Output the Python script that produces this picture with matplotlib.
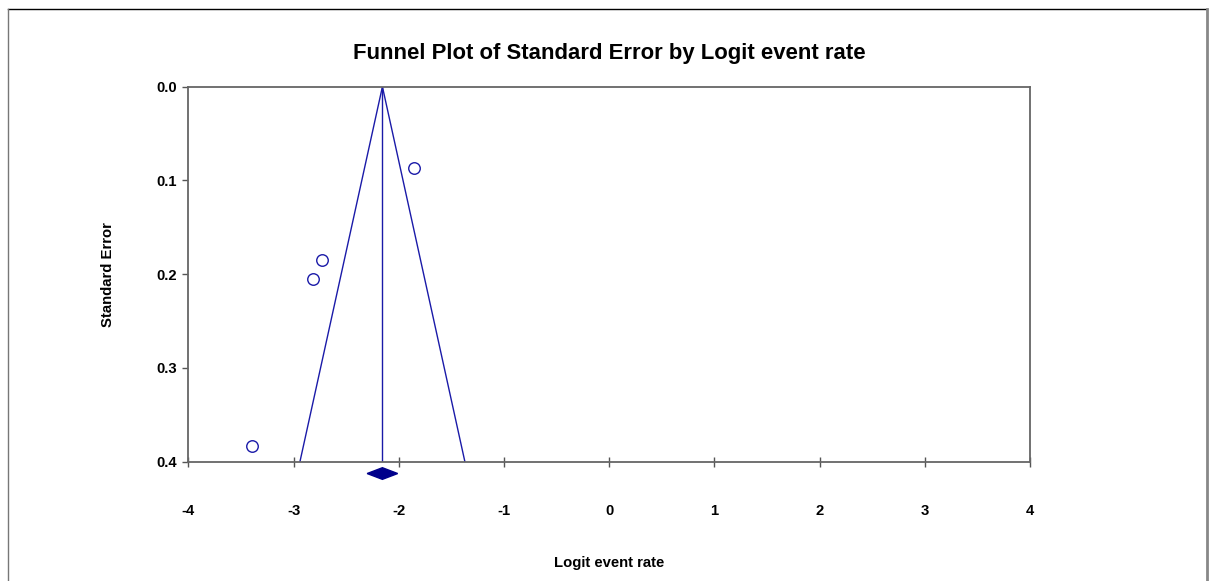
import matplotlib
matplotlib.use('Agg')
import matplotlib.pyplot as plt
from matplotlib.lines import Line2D
import numpy as np

# study values
logit = [-1.858, -2.727, -2.818, -3.39]
se = [0.0864, 0.1845, 0.2048, 0.383]

# summary effect and its CI
est = -2.155
ci_lo = -2.30
ci_hi = -2.01
se_max = 0.4
diamond_y = 0.4126
diamond_h = 0.0062

xticks = [-4, -3, -2, -1, 0, 1, 2, 3, 4]
yticks = [0.0, 0.1, 0.2, 0.3, 0.4]

plt.rcParams['font.family'] = ['Liberation Sans', 'DejaVu Sans']

blue = '#1a1aa8'
navy = '#00008b'

fig = plt.figure(figsize=(12.11, 5.81), dpi=100)
ax = fig.add_axes([0.1555, 0.2053, 0.695, 0.6455])

# funnel
ax.plot([est - 1.96 * se_max, est, est + 1.96 * se_max], [se_max, 0, se_max],
        color=blue, lw=1)
ax.plot([est, est], [0, se_max], color=blue, lw=1)

ax.plot(logit, se, 'o', ms=8.3, mfc='white', mec=blue, mew=1, clip_on=False)

# summary diamond below the axis
ax.fill([ci_lo, est, ci_hi, est],
        [diamond_y, diamond_y - diamond_h, diamond_y, diamond_y + diamond_h],
        color=navy, clip_on=False, zorder=5)

ax.set_xlim(-4, 4)
ax.set_ylim(0.4, 0.0)
ax.set_xticks(xticks)
ax.set_yticks(yticks)
ax.set_xticklabels([str(t) for t in xticks], fontweight='bold', fontsize=10.6)
ax.set_yticklabels(['%.1f' % t for t in yticks], fontweight='bold', fontsize=10.6)
ax.tick_params(axis='x', direction='inout', length=7, width=1, color='#555555', pad=27)
ax.tick_params(axis='y', direction='out', length=4, width=1, color='#555555', pad=4)

for s in ax.spines.values():
    s.set_color('#666666')
    s.set_linewidth(1.3)

ax.set_xlabel('Logit event rate', fontweight='bold', fontsize=10.7, labelpad=27)
ax.set_ylabel('Standard Error', fontweight='bold', fontsize=10.7, labelpad=30)
ax.set_title('Funnel Plot of Standard Error by Logit event rate',
             fontweight='bold', fontsize=15.9, pad=20)

# outer frame (open at the bottom)
fig.add_artist(Line2D([8 / 1211, 1207 / 1211], [1 - 9 / 581, 1 - 9 / 581],
                      transform=fig.transFigure, color='black', lw=1))
fig.add_artist(Line2D([8 / 1211, 8 / 1211], [0, 1 - 9 / 581],
                      transform=fig.transFigure, color='#777777', lw=1))
fig.add_artist(Line2D([1207 / 1211, 1207 / 1211], [0, 1 - 9 / 581],
                      transform=fig.transFigure, color='#888888', lw=2))

fig.savefig('out.png', dpi=100)
